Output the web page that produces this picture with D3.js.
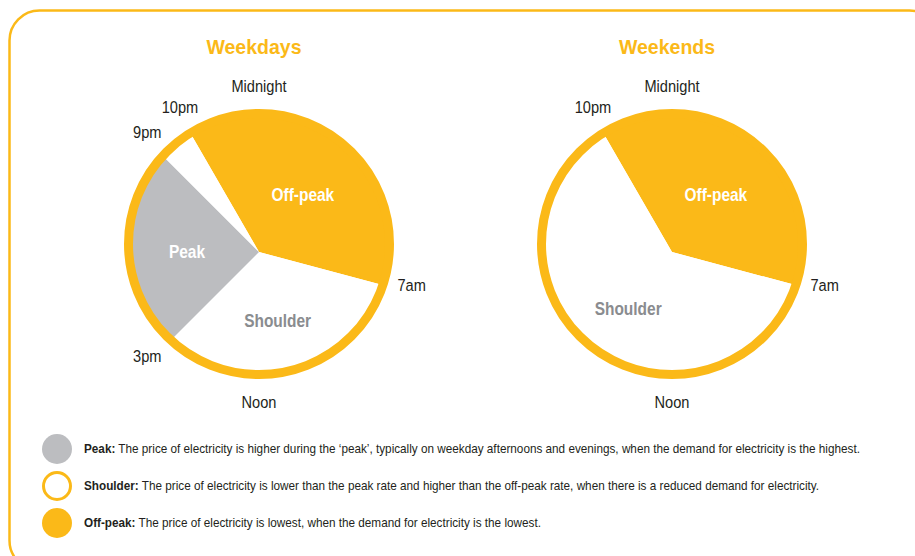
<!DOCTYPE html>
<html>
<head>
<meta charset="UTF-8">
<script src="https://d3js.org/d3.v7.min.js"></script>
<style>
  body { margin: 0; background: #fff; }
  svg { display: block; font-family: "Liberation Sans", Arial, sans-serif; }
</style>
</head>
<body>
<div id="chart"><svg></svg></div>
<script>
// periods of the day, starting at 10pm and going clockwise
const weekdayPeriods = ["Off-peak", "Shoulder", "Peak", "Shoulder"];
const weekdayHours = [9, 8, 6, 1];
const weekendPeriods = ["Off-peak", "Shoulder"];
const weekendHours = [9, 15];
const startHour = 22;

const weekdayTicks = ["Midnight", "7am", "Noon", "3pm", "9pm", "10pm"];
const weekdayTickHours = [0, 7, 12, 15, 21, 22];
const weekendTicks = ["Midnight", "7am", "Noon", "10pm"];
const weekendTickHours = [0, 7, 12, 22];

const legendNames = ["Peak", "Shoulder", "Off-peak"];
const legendTexts = [
  " The price of electricity is higher during the \u2018peak\u2019, typically on weekday afternoons and evenings, when the demand for electricity is the highest.",
  " The price of electricity is lower than the peak rate and higher than the off-peak rate, when there is a reduced demand for electricity.",
  " The price of electricity is lowest, when the demand for electricity is the lowest."
];

const yellow = "#fbb918", grey = "#bcbdc0";
const fills = { "Peak": grey, "Shoulder": "#ffffff", "Off-peak": yellow };
const labelColors = { "Peak": "#ffffff", "Shoulder": "#8a8c8f", "Off-peak": "#ffffff" };

// no condensed font installed, so squeeze glyphs sideways a bit
const narrow = 0.86;

const width = 915, height = 556;
const svg = d3.select("#chart svg").attr("width", width).attr("height", height);

// frame
svg.append("rect")
  .attr("x", 9.5).attr("y", 10.5)
  .attr("width", 930).attr("height", 560)
  .attr("rx", 30)
  .style("fill", "none")
  .style("stroke", yellow)
  .style("stroke-width", 2.5);

const hourScale = d3.scaleLinear().domain([0, 24]).range([0, 2 * Math.PI]);

function drawClock(id, cx, title, periods, hours, ticks, tickHours) {
  const cy = 244, ringR = 130.5, apexDy = 8;
  const g = svg.append("g").attr("transform", `translate(${cx},${cy})`);

  svg.append("text")
    .attr("transform", `translate(${cx - 5},47) scale(0.93,1)`)
    .text(title)
    .style("font-size", "21px")
    .style("font-weight", "bold")
    .style("fill", yellow)
    .style("text-anchor", "middle")
    .attr("dominant-baseline", "central");

  g.append("clipPath").attr("id", "clip-" + id)
    .append("circle").attr("r", ringR);

  const data = periods.map((p, i) => ({ period: p, hours: hours[i] }));
  const pie = d3.pie().sort(null).value(d => d.hours)
    .startAngle(hourScale(startHour - 24))
    .endAngle(hourScale(startHour));
  const arc = d3.arc().innerRadius(0).outerRadius(170);
  const labelArc = d3.arc().innerRadius(72).outerRadius(72);

  const slices = g.append("g")
    .attr("clip-path", `url(#clip-${id})`)
    .append("g")
    .attr("transform", `translate(0,${apexDy})`);

  const arcs = pie(data);
  slices.selectAll("path")
    .data(arcs)
    .join("path")
    .attr("d", arc)
    .style("fill", d => fills[d.data.period]);

  g.append("circle")
    .attr("r", ringR)
    .style("fill", "none")
    .style("stroke", yellow)
    .style("stroke-width", 9);

  g.append("g").attr("transform", `translate(0,${apexDy})`)
    .selectAll("text")
    .data(arcs.filter(d => d.data.hours >= 2))
    .join("text")
    .attr("transform", d => `translate(${labelArc.centroid(d)}) scale(${narrow},1)`)
    .text(d => d.data.period)
    .style("font-size", "18px")
    .style("font-weight", "bold")
    .style("fill", d => labelColors[d.data.period])
    .style("text-anchor", "middle")
    .attr("dominant-baseline", "central");

  const tickR = 158;
  g.selectAll("text.tick")
    .data(ticks)
    .join("text")
    .attr("class", "tick")
    .attr("transform", (d, i) => {
      const a = hourScale(tickHours[i]);
      return `translate(${tickR * Math.sin(a)},${-tickR * Math.cos(a)}) scale(${narrow},1)`;
    })
    .text(d => d)
    .style("font-size", "17px")
    .style("fill", "#231f20")
    .style("text-anchor", "middle")
    .attr("dominant-baseline", "central");
}

drawClock("wd", 259, "Weekdays", weekdayPeriods, weekdayHours, weekdayTicks, weekdayTickHours);
drawClock("we", 672, "Weekends", weekendPeriods, weekendHours, weekendTicks, weekendTickHours);

// legend
const legend = svg.append("g").attr("transform", "translate(57,449)");
const rows = legend.selectAll("g")
  .data(legendNames)
  .join("g")
  .attr("transform", (d, i) => `translate(0,${i * 37})`);

rows.append("circle")
  .attr("r", d => d === "Shoulder" ? 13.5 : 15)
  .style("fill", d => d === "Shoulder" ? "#fff" : fills[d])
  .style("stroke", d => d === "Shoulder" ? yellow : "none")
  .style("stroke-width", 3);

const lt = rows.append("text")
  .attr("transform", `translate(27,0) scale(0.87,1)`)
  .attr("dominant-baseline", "central")
  .style("font-size", "13.5px")
  .style("fill", "#231f20");
lt.append("tspan").style("font-weight", "bold").text(d => d + ":");
lt.append("tspan").text((d, i) => legendTexts[i]);
</script>
</body>
</html>
